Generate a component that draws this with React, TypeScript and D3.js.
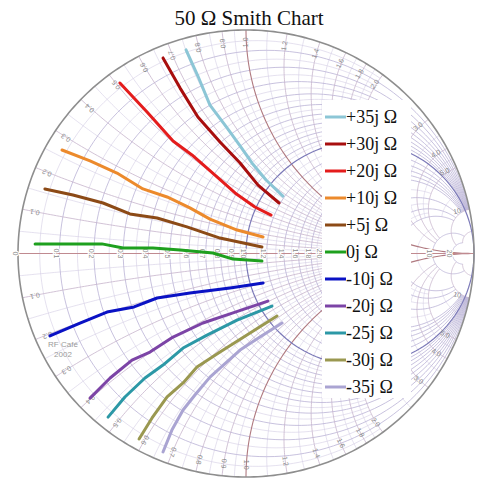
import React from 'react';
import * as d3 from 'd3';

type P = [number, number];

// ---- Data (reflection coefficient Γ = [re, im]) ----
const TITLE = '50 Ω Smith Chart';
const LEGEND_LABELS = ['+35j Ω', '+30j Ω', '+20j Ω', '+10j Ω', '+5j Ω', '0j Ω', '-10j Ω', '-20j Ω', '-25j Ω', '-30j Ω', '-35j Ω'];
const SERIES_COLORS = ['#8cc6d6', '#a80e0e', '#e41c1c', '#ec8a2c', '#8c4a16', '#1ea01e', '#0a12c4', '#7c44a6', '#2c98a6', '#9a9850', '#aaa4d2'];

const P35: P[] = [[-0.263, 0.911], [-0.211, 0.794], [-0.158, 0.664], [-0.083, 0.562], [-0.026, 0.481], [0.026, 0.405], [0.088, 0.329], [0.162, 0.257]];
const P30: P[] = [[-0.364, 0.875], [-0.289, 0.74], [-0.211, 0.611], [-0.114, 0.499], [-0.026, 0.405], [0.053, 0.306], [0.145, 0.226]];
const P20: P[] = [[-0.553, 0.763], [-0.434, 0.633], [-0.32, 0.503], [-0.237, 0.441], [-0.136, 0.351], [-0.048, 0.271], [0.039, 0.208], [0.11, 0.172]];
const P10: P[] = [[-0.807, 0.463], [-0.684, 0.414], [-0.566, 0.36], [-0.452, 0.289], [-0.346, 0.253], [-0.246, 0.204], [-0.158, 0.154], [-0.039, 0.105], [0.075, 0.074]];
const P5: P[] = [[-0.882, 0.289], [-0.759, 0.262], [-0.627, 0.226], [-0.509, 0.177], [-0.39, 0.159], [-0.259, 0.119], [-0.114, 0.069], [0.07, 0.029]];
const P0: P[] = [[-0.925, 0.043], [-0.632, 0.043], [-0.539, 0.025], [-0.408, 0.025], [-0.289, 0.016], [-0.145, 0.002], [-0.057, -0.025], [0.07, -0.034]];
const M10: P[] = [[-0.86, -0.369], [-0.728, -0.311], [-0.61, -0.262], [-0.491, -0.239], [-0.39, -0.199], [-0.246, -0.177], [-0.07, -0.154], [0.075, -0.132]];
const M20: P[] = [[-0.684, -0.647], [-0.596, -0.557], [-0.5, -0.477], [-0.421, -0.441], [-0.32, -0.374], [-0.189, -0.311], [-0.057, -0.266], [0.096, -0.213]];
const M25: P[] = [[-0.605, -0.732], [-0.531, -0.642], [-0.443, -0.557], [-0.364, -0.499], [-0.276, -0.423], [-0.171, -0.365], [-0.039, -0.298], [0.114, -0.235]];
const M30: P[] = [[-0.469, -0.83], [-0.412, -0.736], [-0.346, -0.642], [-0.276, -0.579], [-0.215, -0.508], [-0.114, -0.441], [0.004, -0.365], [0.136, -0.28]];
const M35: P[] = [[-0.364, -0.888], [-0.325, -0.79], [-0.276, -0.7], [-0.224, -0.633], [-0.158, -0.553], [-0.026, -0.432], [0.061, -0.374], [0.158, -0.311]];
const SERIES: P[][] = [P35, P30, P20, P10, P5, P0, M10, M20, M25, M30, M35];

// ---- Smith grid values: [value, extent] ----
const R_MAJOR: P[] = [[0.1, 10], [0.2, 10], [0.3, 10], [0.4, 10], [0.5, 10], [0.6, 10], [0.7, 10], [0.8, 10], [0.9, 10], [1.2, 10], [1.4, 10], [1.6, 10], [1.8, 10], [2.0, 10], [3, 10], [4, 10], [5, 10], [10, 20], [20, 20]];
const R_MINOR: P[] = [[0.05, 2], [0.15, 2], [0.25, 2], [0.35, 2], [0.45, 2], [0.55, 2], [0.65, 2], [0.75, 2], [0.85, 2], [0.95, 2], [1.1, 2], [1.3, 2], [1.5, 2], [1.7, 2], [1.9, 2], [2.5, 5], [3.5, 5], [4.5, 5], [7, 5]];
const X_MAJOR: P[] = [[0.1, 5], [0.2, 5], [0.3, 5], [0.4, 5], [0.5, 5], [0.6, 5], [0.7, 5], [0.8, 5], [0.9, 5], [1.2, 5], [1.4, 5], [1.6, 5], [1.8, 5], [2.0, 5], [3, 10], [4, 10], [5, 10], [10, 20], [20, 20]];
const X_MINOR: P[] = [[0.05, 2], [0.15, 2], [0.25, 2], [0.35, 2], [0.45, 2], [0.55, 2], [0.65, 2], [0.75, 2], [0.85, 2], [0.95, 2], [1.1, 2], [1.3, 2], [1.5, 2], [1.7, 2], [1.9, 2], [2.5, 5], [3.5, 5], [4.5, 5], [7, 5]];
const RIM_LABELS = [0.1, 0.2, 0.3, 0.4, 0.5, 0.6, 0.7, 0.8, 0.9, 1.0, 1.2, 1.4, 1.6, 1.8, 2.0, 3.0, 4.0, 5.0, 10];
const AXIS_LABELS = [0, 0.1, 0.2, 0.3, 0.4, 0.5, 0.6, 0.7, 0.8, 0.9, 1.0, 1.2, 1.4, 1.6, 1.8, 2.0, 3.0, 4.0, 5.0, 10, 20];

// ---- geometry helpers ----
const W = 479, H = 479;
const xS = d3.scaleLinear().domain([-1, 1]).range([18, 474]);
const yS = d3.scaleLinear().domain([-1, 1]).range([477, 30]);
const line = d3.line<P>().x(d => xS(d[0])).y(d => yS(d[1]));

function gamma(r: number, x: number): P {
  const a = r - 1, c = r + 1;
  const den = c * c + x * x;
  return [(a * c + x * x) / den, (x * c - a * x) / den];
}
function rCircle(r: number, xmax: number, n = 160): P[] {
  const t0 = Math.atan(-xmax / (1 + r)), t1 = Math.atan(xmax / (1 + r));
  const pts: P[] = [];
  for (let i = 0; i <= n; i++) {
    const t = t0 + ((t1 - t0) * i) / n;
    pts.push(gamma(r, (1 + r) * Math.tan(t)));
  }
  return pts;
}
function xArc(x: number, rmax: number, n = 120): P[] {
  const ax = Math.abs(x);
  const s0 = Math.atan(ax), s1 = Math.max(1e-6, Math.atan(ax / (rmax + 1)));
  const pts: P[] = [];
  for (let i = 0; i <= n; i++) {
    const s = s0 + ((s1 - s0) * i) / n;
    pts.push(gamma(ax / Math.tan(s) - 1, x));
  }
  return pts;
}
const fmt = (v: number) => (v >= 10 ? String(v) : v.toFixed(1));

const SERIF = "'Liberation Serif', 'Times New Roman', Times, serif";
const SANS = "'Liberation Sans', Arial, sans-serif";

export default function App() {
  const rim: P[] = d3.range(0, 361).map(a => [Math.cos((a * Math.PI) / 180), Math.sin((a * Math.PI) / 180)] as P);
  const gridColor = '#bab3d5';
  const minorColor = '#d3cde4';
  const xColor = '#c6b4cc';
  const legendX = 322, legendY = 100, legendW = 89, legendH = 298;
  const itemY0 = 117, itemStep = 27;

  return (
    <svg width={W} height={H} style={{ position: 'absolute', left: 0, top: 0, background: '#fff' }}>
      <rect x={0} y={0} width={W} height={H} fill="#fff" />
      <g fill="none">
        {R_MINOR.map(([r, xm]) => (
          <path key={'rm' + r} d={line(rCircle(r, xm)) || ''} stroke={minorColor} strokeWidth={0.6} />
        ))}
        {X_MINOR.flatMap(([x, rm]) => [x, -x].map(v => (
          <path key={'xm' + v} d={line(xArc(v, rm)) || ''} stroke={minorColor} strokeWidth={0.6} />
        )))}
        {R_MAJOR.map(([r, xm]) => (
          <path key={'rM' + r} d={line(rCircle(r, xm)) || ''} stroke={gridColor} strokeWidth={0.8} />
        ))}
        {X_MAJOR.flatMap(([x, rm]) => [x, -x].map(v => (
          <path key={'xM' + v} d={line(xArc(v, rm)) || ''} stroke={xColor} strokeWidth={0.8} />
        )))}
        {[1, -1].map(v => (
          <path key={'x1' + v} d={line(xArc(v, 1e6)) || ''} stroke="#b07a80" strokeWidth={1.1} />
        ))}
        <path d={line(rCircle(1, 1e6)) || ''} stroke="#7c7ab8" strokeWidth={1.2} />
        <path d={line([[-1, 0], [1, 0]]) || ''} stroke="#c08a90" strokeWidth={1.1} />
        <path d={line(rim) || ''} stroke="#8e8e8e" strokeWidth={1.6} />
      </g>

      <g style={{ fontFamily: SANS, fontSize: '7px' }} fill="#8a8a8a">
        {RIM_LABELS.flatMap(v => [v, -v].map(x => {
          const th = x > 0 ? Math.PI - 2 * Math.atan(x) : -(Math.PI - 2 * Math.atan(-x));
          const k = 0.945;
          const px = xS(k * Math.cos(th)), py = yS(k * Math.sin(th));
          const rot = (-th * 180) / Math.PI;
          return (
            <text key={'rl' + x} x={px} y={py} transform={`rotate(${rot},${px},${py})`} textAnchor="middle" dominantBaseline="middle">
              {fmt(v)}
            </text>
          );
        }))}
        {AXIS_LABELS.map(r => {
          const g = (r - 1) / (r + 1);
          const px = xS(g) - 3.5, py = yS(0);
          return (
            <text key={'al' + r} x={px} y={py} transform={`rotate(90,${px},${py})`} textAnchor="middle" dominantBaseline="middle"
              stroke="#fff" strokeWidth={2.2} paintOrder="stroke">
              {r === 0 ? '0' : fmt(r)}
            </text>
          );
        })}
        <text x={63} y={347} textAnchor="middle" style={{ fontSize: '8px' }} fill="#9a9a9a">RF  Café</text>
        <text x={63} y={357} textAnchor="middle" style={{ fontSize: '8px' }} fill="#9a9a9a">2002</text>
      </g>

      <g fill="none" strokeLinejoin="round" strokeLinecap="round">
        {SERIES.map((s, i) => (
          <path key={'s' + i} d={line(s) || ''} stroke={SERIES_COLORS[i]} strokeWidth={3} />
        ))}
      </g>

      <rect x={legendX} y={legendY} width={legendW} height={legendH} fill="#fff" />
      {LEGEND_LABELS.map((lab, i) => {
        const y = itemY0 + i * itemStep;
        return (
          <g key={'lg' + i}>
            <line x1={legendX + 3} x2={legendX + 24} y1={y} y2={y} stroke={SERIES_COLORS[i]} strokeWidth={3} />
            <text x={legendX + 24} y={y + 6} fill="#111" style={{ fontFamily: SERIF, fontSize: '18px' }}>{lab}</text>
          </g>
        );
      })}

      <text x={249} y={25} textAnchor="middle" fill="#111" style={{ fontFamily: SERIF, fontSize: '21px' }}>
        {TITLE}
      </text>
    </svg>
  );
}
